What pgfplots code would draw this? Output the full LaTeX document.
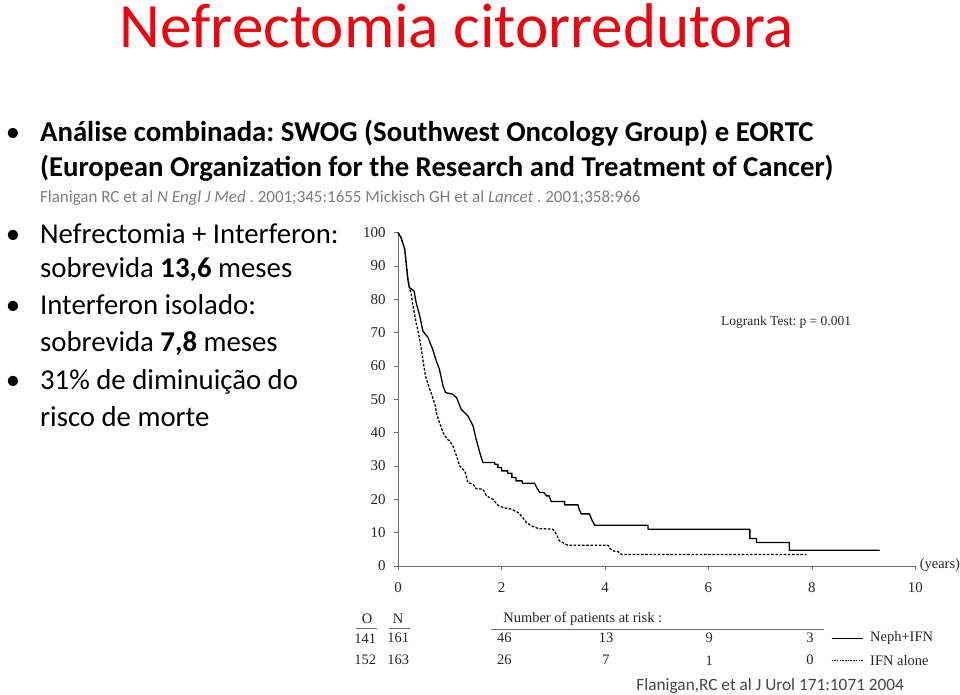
\documentclass[border=0pt]{standalone}
\usepackage{pgfplots}
\pgfplotsset{compat=1.18}
\usepackage{fontspec}
\setmainfont{Carlito}
\newfontfamily\tnr{Liberation Serif}
\definecolor{titlered}{RGB}{235,5,15}
\definecolor{citegray}{RGB}{125,125,125}
\definecolor{footgray}{RGB}{70,70,70}
\definecolor{axgray}{RGB}{110,110,110}
\frenchspacing
\begin{document}
\begin{tikzpicture}[x=1pt,y=1pt]
\path (0,0) rectangle (960,695);
% title
\node[anchor=base, text=titlered, font=\fontsize{63.2}{63.2}\selectfont, inner sep=0] at (457.5,647) {Nefrectomia citorredutora};
% top bullet
\node[anchor=base, inner sep=0, font=\fontsize{28.5}{28.5}\selectfont] at (13,553) {•};
\node[anchor=base west, inner sep=0, font=\fontsize{28.8}{28.8}\selectfont\bfseries] at (40,553) {Análise combinada: SWOG (Southwest Oncology Group) e EORTC};
\node[anchor=base west, inner sep=0, font=\fontsize{28.8}{28.8}\selectfont\bfseries] at (40,518) {(European Organization for the Research and Treatment of Cancer)};
\node[anchor=base west, inner sep=0, text=citegray, font=\fontsize{17}{17}\selectfont] at (40,492) {Flanigan RC et al \textit{N Engl J Med} . 2001;345:1655 Mickisch GH et al \textit{Lancet} . 2001;358:966};
% left bullets
\begin{scope}[every node/.style={inner sep=0, font=\fontsize{28.8}{28.8}\selectfont}]
\node[anchor=base] at (13,451.7) {•};
\node[anchor=base west] at (40,451.7) {Nefrectomia + Interferon:};
\node[anchor=base west] at (40,416.7) {sobrevida \textbf{13,6} meses};
\node[anchor=base] at (13,380) {•};
\node[anchor=base west] at (40,380) {Interferon isolado:};
\node[anchor=base west] at (40,342.7) {sobrevida \textbf{7,8} meses};
\node[anchor=base] at (13,305) {•};
\node[anchor=base west] at (40,305) {31\% de diminuição do};
\node[anchor=base west] at (40,268.3) {risco de morte};
\end{scope}
% footer
\node[anchor=base west, inner sep=0, text=footgray, font=\fontsize{17.3}{17.3}\selectfont] at (637,4) {Flanigan,RC et al J Urol 171:1071 2004};

\begin{axis}[at={(398.5pt,128.5pt)}, anchor=south west, scale only axis,
  width=518pt, height=333.5pt,
  xmin=0, xmax=10, ymin=0, ymax=100,
  axis lines=left, axis line style={-, axgray, line width=0.6pt},
  xtick={0,2,...,10}, ytick={0,10,...,100},
  tick align=outside, major tick length=4pt,
  tick style={axgray, line width=0.6pt},
  ticklabel style={font=\tnr\fontsize{15}{15}\selectfont, text=black!85},
  xticklabel style={yshift=-9pt},
  yticklabel style={xshift=-5pt},
  /pgf/number format/assume math mode=true,
  clip=false]
\addplot[black, line width=1.3pt, line join=round] coordinates {
(0,100) (0.06,98.5) (0.13,95) (0.19,86) (0.22,83.5) (0.27,83) (0.31,82.5) (0.35,79)
(0.42,75) (0.48,70.5) (0.58,68.5) (0.67,65) (0.74,61.5) (0.80,59) (0.87,54) (0.92,52)
(1.06,51.5) (1.13,50.5) (1.22,47) (1.35,45) (1.45,42) (1.51,38) (1.58,34) (1.64,31)
(1.87,31) (1.87,30.5) (1.93,30.5) (1.93,29.5) (2.0,29.5) (2.0,28.5) (2.12,28.5) (2.12,27.8)
(2.2,27.8) (2.2,26.5) (2.28,26.5) (2.28,25.5) (2.4,25.5) (2.4,24.8) (2.64,24.8) (2.68,23.5)
(2.74,22) (2.82,22) (2.87,21) (2.92,21) (2.96,19.3) (3.22,19.3) (3.22,18.3) (3.48,18.3)
(3.5,17) (3.54,15.6) (3.7,15.6) (3.74,14) (3.8,12.2) (4.83,12.2) (4.83,11) (6.80,11)
(6.80,8.2) (6.93,8.2) (6.93,7) (7.56,7) (7.56,4.7) (9.31,4.7)
};
\addplot[black, line width=1.25pt, dash pattern=on 2.6pt off 1.6pt, line join=round] coordinates {
(0,100) (0.06,98.5) (0.13,95) (0.19,86) (0.22,83.5) (0.25,82) (0.29,78) (0.35,73)
(0.42,68) (0.48,62) (0.53,57) (0.59,54) (0.65,51.5) (0.72,48) (0.74,46) (0.80,43)
(0.87,40) (0.95,38) (1.0,37.5) (1.06,36) (1.13,33) (1.19,30) (1.29,28.5) (1.35,25)
(1.45,24.5) (1.51,23.2) (1.64,23) (1.71,21) (1.83,20) (1.93,18.2) (2.03,17.5) (2.19,17)
(2.32,16) (2.41,14.5) (2.48,13) (2.58,12) (2.71,11.2) (2.99,11) (3.06,9.5) (3.12,7.5)
(3.28,6.2) (4.06,6.2) (4.1,5.2) (4.15,4.5) (4.25,4.3) (4.32,3.4) (7.89,3.4)
};
\end{axis}
% chart annotations
\begin{scope}[every node/.style={inner sep=0, font=\tnr\fontsize{14.5}{14.5}\selectfont, text=black!85}]
\node at (941,129) {(years)};
\node[font=\tnr\fontsize{13.5}{13.5}\selectfont] at (787,372) {Logrank Test: p = 0.001};
\node at (367.5,75.5) {O};
\node at (398.6,75.5) {N};
\node at (365.6,56) {141};
\node at (398.6,56) {161};
\node at (365.6,34) {152};
\node at (398.6,34) {163};
\node[anchor=west] at (503.7,75.5) {Number of patients at risk :};
\node at (504.9,56) {46}; \node at (606.8,56) {13}; \node at (710,56) {9}; \node at (811,56) {3};
\node at (504.9,34) {26}; \node at (606.8,34) {7}; \node at (710,34) {1}; \node at (811,34) {0};
\node[anchor=west] at (871,56) {Neph+IFN};
\node[anchor=west] at (871,34) {IFN alone};
\end{scope}
\draw[axgray, line width=0.6pt] (356,66) -- (377,66);
\draw[axgray, line width=0.6pt] (389,66) -- (410,66);
\draw[axgray, line width=0.6pt] (492,65) -- (825,65);
\draw[black, line width=0.8pt] (832.5,56) -- (863.6,56);
\draw[black, line width=0.8pt, dash pattern=on 1.5pt off 1.2pt] (832.5,34) -- (863.6,34);
\end{tikzpicture}
\end{document}
